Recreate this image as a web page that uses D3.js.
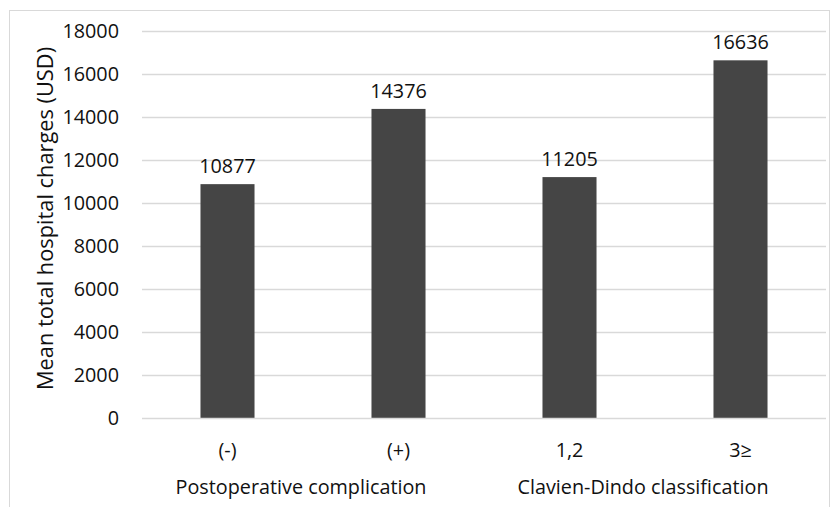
<!DOCTYPE html>
<html>
<head>
<meta charset="utf-8">
<script src="https://cdn.jsdelivr.net/npm/d3@7"></script>
<style>
  html, body { margin: 0; padding: 0; background: #fff; }
  svg { display: block; }
  text { font-family: "Open Sans", "Noto Sans", sans-serif; fill: #111; }
</style>
</head>
<body>
<svg id="chart" width="830" height="507"></svg>
<script>
// Mean total hospital charges by complication status and Clavien-Dindo grade
const categories = ["(-)", "(+)", "1,2", "3\u2265"];
const values = [10877, 14376, 11205, 16636];
const groups = [
  { label: "Postoperative complication", members: ["(-)", "(+)"] },
  { label: "Clavien-Dindo classification", members: ["1,2", "3\u2265"] }
];
const yTicks = [0, 2000, 4000, 6000, 8000, 10000, 12000, 14000, 16000, 18000];
const yTitle = "Mean total hospital charges (USD)";

const W = 830, H = 507;
const margin = { top: 31, right: 4, bottom: 89, left: 142 };
const FS = "19.8px";
const svg = d3.select("#chart");

// Outer frame
svg.append("rect")
  .attr("x", 9.5).attr("y", 10.5)
  .attr("width", W - 10).attr("height", H)
  .attr("fill", "none").attr("stroke", "#d9d9d9").attr("stroke-width", 1);

const x = d3.scaleBand()
  .domain(categories)
  .range([margin.left, W - margin.right])
  .paddingInner(0.684).paddingOuter(0.342);

const y = d3.scaleLinear()
  .domain([0, 18000])
  .range([H - margin.bottom, margin.top]);

// Gridlines
svg.append("g")
  .selectAll("line")
  .data(yTicks.filter(d => d > 0))
  .join("line")
  .attr("x1", margin.left).attr("x2", W - margin.right)
  .attr("y1", d => Math.round(y(d)) + 0.5).attr("y2", d => Math.round(y(d)) + 0.5)
  .attr("stroke", "#d9d9d9").attr("stroke-width", 1.5);

// Y axis labels
const yAxis = d3.axisLeft(y).tickValues(yTicks).tickSize(0).tickPadding(23).tickFormat(d3.format("d"));
const gy = svg.append("g")
  .attr("transform", `translate(${margin.left},0)`)
  .call(yAxis);
gy.select(".domain").remove();
gy.selectAll("text")
  .attr("font-size", FS)
  .attr("font-family", "Open Sans, Noto Sans, sans-serif")
  .attr("fill", "#111");

// Bars
svg.append("g")
  .selectAll("rect")
  .data(categories.map((c, i) => ({ c, v: values[i] })))
  .join("rect")
  .attr("x", d => x(d.c))
  .attr("y", d => y(d.v))
  .attr("width", x.bandwidth())
  .attr("height", d => y(0) - y(d.v))
  .attr("fill", "#454545");

// Value labels
svg.append("g")
  .selectAll("text")
  .data(categories.map((c, i) => ({ c, v: values[i] })))
  .join("text")
  .attr("x", d => x(d.c) + x.bandwidth() / 2)
  .attr("y", d => y(d.v) - 11)
  .attr("text-anchor", "middle")
  .attr("font-size", FS)
  .text(d => d.v);

// Baseline
svg.append("line")
  .attr("x1", margin.left).attr("x2", W - margin.right)
  .attr("y1", y(0) + 0.5).attr("y2", y(0) + 0.5)
  .attr("stroke", "#d9d9d9").attr("stroke-width", 1.5);

// Category labels
svg.append("g")
  .selectAll("text")
  .data(categories)
  .join("text")
  .attr("x", d => x(d) + x.bandwidth() / 2)
  .attr("y", y(0) + 39)
  .attr("text-anchor", "middle")
  .attr("font-size", FS)
  .text(d => d);

// Group labels, centred under their member bars
svg.append("g")
  .selectAll("text")
  .data(groups)
  .join("text")
  .attr("x", g => {
    const cs = g.members.map(m => x(m) + x.bandwidth() / 2);
    return d3.mean(cs) - 12;
  })
  .attr("y", y(0) + 76)
  .attr("text-anchor", "middle")
  .attr("font-size", FS)
  .text(g => g.label);

// Y axis title
svg.append("text")
  .attr("transform", `translate(53,${(y(0) + y(18000)) / 2 - 6}) rotate(-90)`)
  .attr("text-anchor", "middle")
  .attr("font-size", "21.8px")
  .text(yTitle);
</script>
</body>
</html>
